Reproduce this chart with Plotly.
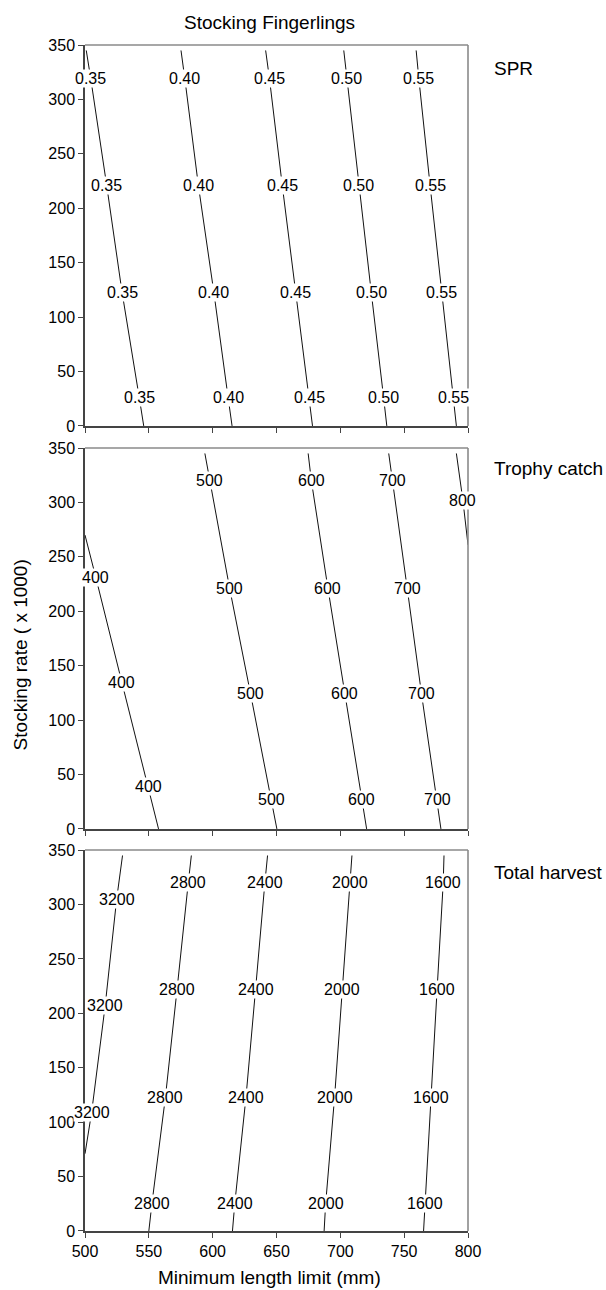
import numpy as np
import plotly.graph_objects as go

# ---------------- data ----------------
x_ticks = [500, 550, 600, 650, 700, 750, 800]
y_ticks = [0, 50, 100, 150, 200, 250, 300, 350]

# Panel 1: SPR contour lines (x = minimum length limit at each stocking rate)
spr_levels = ["0.35", "0.40", "0.45", "0.50", "0.55"]
spr_rates = [345, 319, 221, 123, 26, 0]
spr_x = [
    [501.0, 504.5, 517.0, 529.0, 542.5, 546.0],
    [575.2, 578.2, 588.8, 600.9, 612.1, 615.2],
    [641.5, 644.5, 654.5, 665.2, 675.8, 678.2],
    [702.7, 705.2, 714.5, 724.2, 733.9, 736.4],
    [759.4, 761.5, 770.3, 779.4, 788.5, 790.9],
]
spr_label_rates = [[319, 221, 123, 26]] * 5

# Panel 2: Trophy catch
trophy_levels = ["400", "500", "600", "700", "800"]
trophy_rates = [
    [270, 231, 135, 39, 0],
    [345, 320, 221, 124, 27, 0],
    [345, 320, 221, 124, 27, 0],
    [345, 320, 221, 124, 27, 0],
    [345, 302, 261],
]
trophy_x = [
    [500.0, 508.5, 528.8, 549.7, 557.6],
    [593.9, 597.9, 613.3, 629.7, 646.1, 650.3],
    [674.8, 677.3, 690.3, 703.6, 716.7, 720.6],
    [737.9, 740.9, 752.4, 763.6, 775.8, 778.8],
    [790.9, 796.0, 800.0],
]
trophy_label_rates = [
    [231, 135, 39],
    [320, 221, 124, 27],
    [320, 221, 124, 27],
    [320, 221, 124, 27],
    [302],
]

# Panel 3: Total harvest
harvest_levels = ["3200", "2800", "2400", "2000", "1600"]
harvest_rates = [
    [345, 305, 207, 109, 71],
    [345, 320, 222, 123, 25, 0],
    [345, 320, 222, 123, 25, 0],
    [345, 320, 222, 123, 25, 0],
    [345, 320, 222, 123, 25, 0],
]
harvest_x = [
    [529.4, 524.8, 515.8, 505.2, 500.0],
    [583.3, 580.9, 572.1, 563.0, 552.4, 550.0],
    [643.0, 640.9, 633.6, 626.1, 617.3, 615.5],
    [709.1, 707.6, 701.2, 695.5, 688.5, 687.3],
    [781.2, 780.6, 775.8, 771.2, 766.1, 765.2],
]
harvest_label_rates = [
    [305, 207, 109],
    [320, 222, 123, 25],
    [320, 222, 123, 25],
    [320, 222, 123, 25],
    [320, 222, 123, 25],
]

panel_titles = ["SPR", "Trophy catch", "Total harvest"]
main_title = "Stocking Fingerlings"
x_title = "Minimum length limit (mm)"
y_title = "Stocking rate ( x 1000)"

# ---------------- figure ----------------
FONT = "Liberation Sans, Arial, sans-serif"
fig = go.Figure()

panels = [
    (spr_levels, [spr_rates] * 5, spr_x, spr_label_rates),
    (trophy_levels, trophy_rates, trophy_x, trophy_label_rates),
    (harvest_levels, harvest_rates, harvest_x, harvest_label_rates),
]
domains = [[0.6788, 1.0], [0.3390, 0.6602], [0.0, 0.3212]]
title_y = [0.9806, 0.6433, 0.3019]

annotations = []
shapes = []
for i, (levels, rates, xs, lab_rates) in enumerate(panels):
    n = i + 1
    xa = "x" if n == 1 else f"x{n}"
    ya = "y" if n == 1 else f"y{n}"
    for lev, r, xv, lr in zip(levels, rates, xs, lab_rates):
        fig.add_trace(go.Scatter(
            x=xv, y=r, mode="lines", xaxis=xa, yaxis=ya,
            line=dict(color="#111111", width=1), showlegend=False,
            hoverinfo="skip"))
        r_arr = np.array(r, dtype=float)
        x_arr = np.array(xv, dtype=float)
        order = np.argsort(r_arr)
        for rr in lr:
            xl = float(np.interp(rr, r_arr[order], x_arr[order]))
            annotations.append(dict(
                x=xl, y=rr, xref=xa, yref=ya, text=lev, showarrow=False,
                bgcolor="white", borderpad=0,
                font=dict(family=FONT, size=16, color="black")))
    # panel title at right
    annotations.append(dict(
        x=1.063, y=title_y[i], xref="paper", yref="paper", text=panel_titles[i],
        showarrow=False, xanchor="left", yanchor="middle",
        font=dict(family=FONT, size=19, color="black")))
    # top and right frame (gray)
    shapes.append(dict(type="line", xref=f"{xa} domain", yref=f"{ya} domain",
                       x0=0, x1=1, y0=1, y1=1, line=dict(color="#8a8a8a", width=1.6)))
    shapes.append(dict(type="line", xref=f"{xa} domain", yref=f"{ya} domain",
                       x0=1, x1=1, y0=0, y1=1, line=dict(color="#8a8a8a", width=1.6)))

    axis_common = dict(showgrid=False, zeroline=False, showline=True,
                       linecolor="#444444", linewidth=1.5, ticks="outside",
                       ticklen=5, tickwidth=1.2, tickcolor="#444444",
                       tickfont=dict(family=FONT, size=16, color="black"))
    xkey = "xaxis" if n == 1 else f"xaxis{n}"
    ykey = "yaxis" if n == 1 else f"yaxis{n}"
    fig.update_layout(**{
        xkey: dict(range=[500, 800], tickvals=x_ticks, anchor=ya,
                   showticklabels=(n == 3), domain=[0, 1], **axis_common),
        ykey: dict(range=[0, 350], tickvals=y_ticks, anchor=xa,
                   domain=domains[i], **axis_common),
    })

annotations.append(dict(
    x=0.4817, y=1.0188, xref="paper", yref="paper", text=main_title,
    showarrow=False, xanchor="center", yanchor="middle",
    font=dict(family=FONT, size=19, color="black")))
annotations.append(dict(
    x=0.4817, y=-0.0396, xref="paper", yref="paper", text=x_title,
    showarrow=False, xanchor="center", yanchor="middle",
    font=dict(family=FONT, size=19, color="black")))
annotations.append(dict(
    x=-0.166, y=0.4857, xref="paper", yref="paper", text=y_title,
    showarrow=False, xanchor="center", yanchor="middle", textangle=-90,
    font=dict(family=FONT, size=19, color="black")))

fig.update_layout(
    width=606, height=1290,
    margin=dict(l=85, r=138, t=45, b=59),
    paper_bgcolor="white", plot_bgcolor="white",
    annotations=annotations, shapes=shapes,
    showlegend=False,
)

fig.write_html("out.html")
